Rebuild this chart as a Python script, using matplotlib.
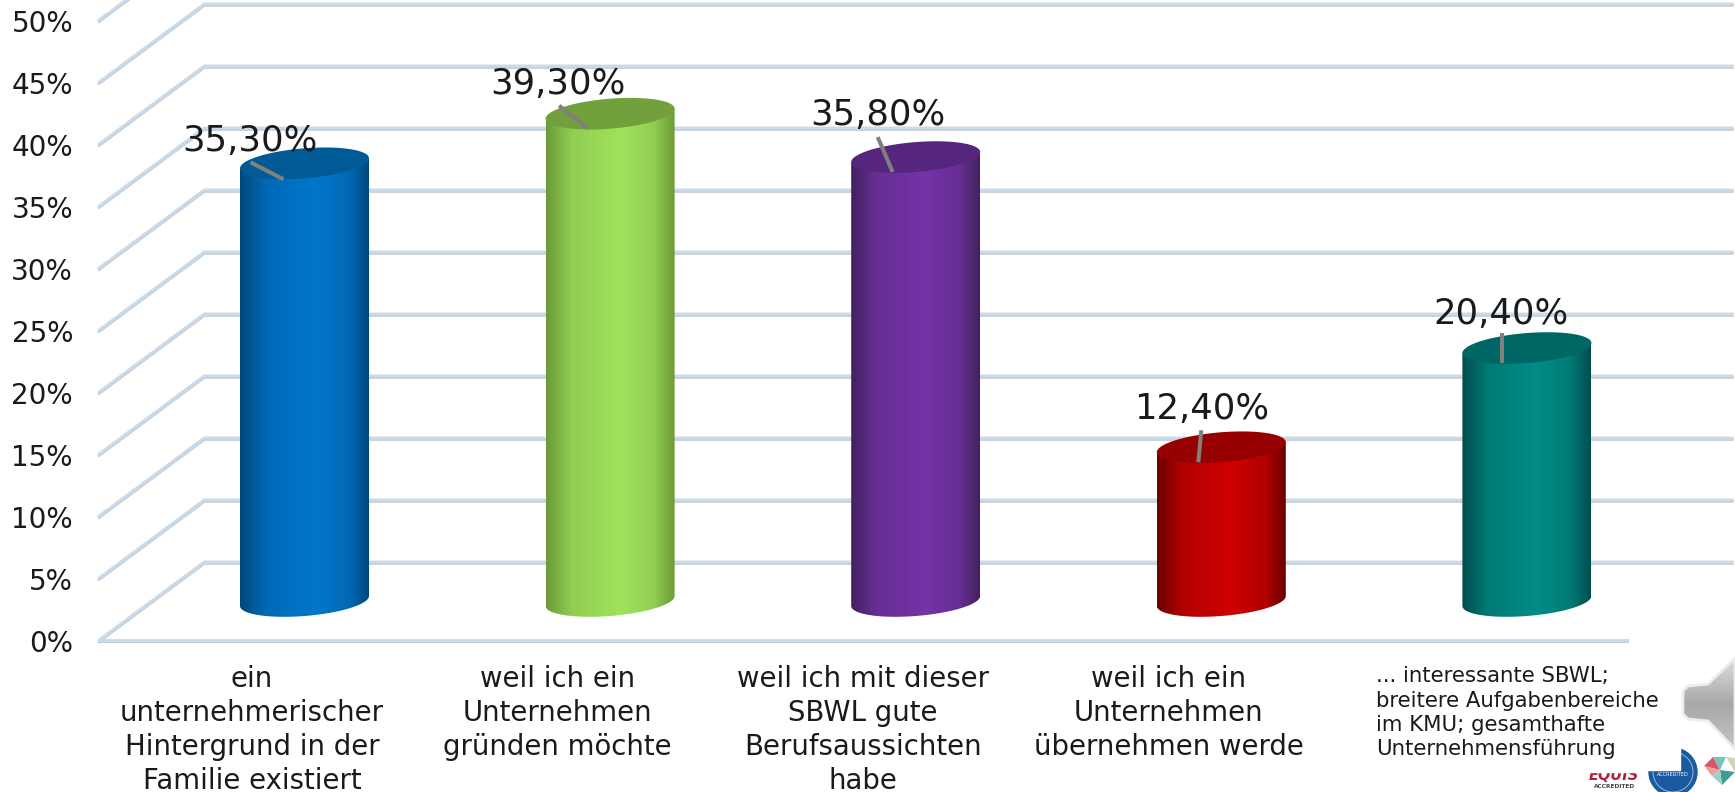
import numpy as np
import matplotlib
import matplotlib.pyplot as plt
from matplotlib.colors import LinearSegmentedColormap, to_rgb
from matplotlib.patches import Circle, PathPatch, Polygon, Rectangle
from matplotlib.path import Path
import matplotlib.patheffects as pe

matplotlib.use("Agg")

# data
categories = [
    "ein\nunternehmerischer\nHintergrund in der\nFamilie existiert",
    "weil ich ein\nUnternehmen\ngründen möchte",
    "weil ich mit dieser\nSBWL gute\nBerufsaussichten\nhabe",
    "weil ich ein\nUnternehmen\nübernehmen werde",
    "... interessante SBWL;\nbreitere Aufgabenbereiche\nim KMU; gesamthafte\nUnternehmensführung",
]
values = [35.3, 39.3, 35.8, 12.4, 20.4]
value_labels = ["35,30%", "39,30%", "35,80%", "12,40%", "20,40%"]
y_ticks = [0, 5, 10, 15, 20, 25, 30, 35, 40, 45, 50]
y_tick_labels = ["0%", "5%", "10%", "15%", "20%", "25%", "30%", "35%", "40%", "45%", "50%"]

# colours: edge, middle, top
edge_colors = ["#00477c", "#6c9a3a", "#43215f", "#6a0000", "#004d4d"]
mid_colors = ["#0076cb", "#9fe25b", "#7533a8", "#cf0000", "#008c86"]
top_colors = ["#005a96", "#72a03c", "#56267f", "#960000", "#006664"]

# pixel offsets from the centre of the cylinder top
label_offsets = [(-55, -22), (-52, -30), (-38, -42), (-20, -38), (-26, -34)]
leader_starts = [(-54, -1), (-51, -8), (-38, -20), (-20, -17), (-25, -15)]
leader_ends = [(-21, 16), (-22, 15), (-23, 15), (-23, 15), (-25, 15)]

W, H = 1735, 792
PX_X = 305.6  # pixels per category
PX_Y = 12.4   # pixels per percent
X0, Y0 = 252, 640  # pixel of category 0 / 0%
DX = 105 / PX_X  # depth of the 3d floor
DY = 78 / PX_Y

fig = plt.figure(figsize=(W / 100, H / 100), dpi=100, facecolor="white")
ax = fig.add_axes([0, 0, 1, 1])
ax.axis("off")

GRID = "#c9dbeb"
shadow = [pe.SimpleLineShadow(offset=(0, -1), shadow_color="#8c99a8", alpha=0.5), pe.Normal()]


def draw_grid():
    left, right = -0.5, 4.5
    for v in y_ticks:
        xs = [left, left + DX, right + DX]
        ys = [v, v + DY, v + DY]
        ax.plot(xs, ys, color=GRID, lw=2.1, zorder=1, solid_joinstyle="miter", path_effects=shadow)
    ax.plot([left, right], [0, 0], color=GRID, lw=2.1, zorder=1, path_effects=shadow)


def ellipse(cx, cy, t):
    a = 64.5 / PX_X
    b = 15 / PX_Y
    s = 5 / PX_Y
    return cx + a * np.cos(t), cy + s * np.cos(t) + b * np.sin(t)


def draw_cylinder(i, val, edge, mid, top):
    cx = i + DX / 2
    cy0 = DY / 2
    cy1 = val + DY / 2
    a = 64.5 / PX_X

    # body with horizontal gradient, clipped to the outline
    mid_rgb = np.array(to_rgb(mid))
    edge_rgb = np.array(to_rgb(edge))
    blend = tuple(0.72 * mid_rgb + 0.28 * edge_rgb)
    cmap = LinearSegmentedColormap.from_list(
        "cyl", [(0, edge), (0.2, blend), (0.58, mid), (0.84, blend), (1, edge)])
    t = np.linspace(np.pi, 2 * np.pi, 60)
    bx, by = ellipse(cx, cy0, t)
    tx, ty = ellipse(cx, cy1, t[[-1, 0]])
    outline = Path(np.column_stack([np.r_[bx, tx], np.r_[by, ty]]))
    patch = PathPatch(outline, facecolor="none", edgecolor="none", transform=ax.transData, zorder=3)
    ax.add_patch(patch)
    grad = np.linspace(0, 1, 256).reshape(1, -1)
    im = ax.imshow(grad, cmap=cmap, extent=[cx - a, cx + a, cy0 - 3, cy1 + 3],
                   aspect="auto", zorder=3, interpolation="bilinear")
    im.set_clip_path(patch)

    # top
    t = np.linspace(0, 2 * np.pi, 120)
    ex, ey = ellipse(cx, cy1, t)
    ax.fill(ex, ey, color=top, zorder=4, lw=0)
    return cx, cy1


draw_grid()

for i, val in enumerate(values):
    cx, cy = draw_cylinder(i, val, edge_colors[i], mid_colors[i], top_colors[i])
    ox, oy = label_offsets[i]
    ax.text(cx + ox / PX_X, cy - oy / PX_Y, value_labels[i], fontsize=25.5,
            ha="center", va="center", color="#1a1a1a", zorder=6)
    sx, sy = leader_starts[i]
    ex, ey = leader_ends[i]
    ax.plot([cx + sx / PX_X, cx + ex / PX_X], [cy - sy / PX_Y, cy - ey / PX_Y],
            color="#808080", lw=2.9, zorder=5, solid_capstyle="butt")

# axis labels
for v, lab in zip(y_ticks, y_tick_labels):
    ax.text((73 - X0) / PX_X, v - 0.3, lab, fontsize=20, ha="right", va="center", color="#1a1a1a")

for i, cat in enumerate(categories[:4]):
    ax.text(i, -2.0, cat, fontsize=19.8, ha="center", va="top", linespacing=1.27, color="#1a1a1a")
ax.text((1376 - X0) / PX_X, -2.1, categories[4], fontsize=15.3, ha="left", va="top",
        linespacing=1.28, color="#1a1a1a")

ax.set_xlim((0 - X0) / PX_X, (W - X0) / PX_X)
ax.set_ylim((Y0 - H) / PX_Y, Y0 / PX_Y)

# slide decoration on top, in pixel coordinates
deco = fig.add_axes([0, 0, 1, 1], facecolor="none")
deco.axis("off")
deco.set_xlim(0, W)
deco.set_ylim(H, 0)

deco.add_patch(Circle((1673, 772), 24, color="#1a5aa0", zorder=1))
deco.add_patch(Circle((1673, 772), 20, fill=False, ec="#9db8d8", lw=0.7, zorder=2))
deco.text(1673, 775, "ACCREDITED", fontsize=3.6, color="white", ha="center", va="center", zorder=2)
deco.add_patch(Rectangle((1640, 740), 40, 30, color="white", zorder=3))
deco.text(1614, 776, "EQUIS", fontsize=10.5, fontweight="bold", color="#b5203c", ha="center", va="center",
          style="italic", zorder=2)
deco.add_patch(Rectangle((1585, 760), 60, 12, color="white", zorder=3))
deco.text(1615, 786, "ACCREDITED", fontsize=4.2, fontweight="bold", color="#444444", ha="center", va="center")

diamond = [((1704, 766), (1713, 757), (1720, 770), "#d9566a"),
           ((1704, 766), (1720, 770), (1712, 776), "#e9a0a0"),
           ((1713, 757), (1726, 757), (1720, 770), "#79c4b8"),
           ((1726, 757), (1735, 758), (1735, 772), "#cfd8b0"),
           ((1720, 770), (1735, 772), (1722, 785), "#3f9c94"),
           ((1712, 776), (1720, 770), (1722, 785), "#9fd0c8")]
for a, b, c, col in diamond:
    deco.add_patch(Polygon([a, b, c], color=col, lw=0))

speaker = Polygon([(1735, 658), (1708, 684), (1688, 686), (1683, 691), (1683, 714), (1688, 719),
                   (1708, 721), (1735, 749)], closed=True, facecolor="none", edgecolor="#ededed", lw=2, zorder=5)
deco.add_patch(speaker)
shade = LinearSegmentedColormap.from_list("spk", ["#dedede", "#a8a8a8", "#c4c4c4"])
im = deco.imshow(np.linspace(0, 1, 64).reshape(-1, 1), cmap=shade, extent=[1683, 1735, 749, 658],
                 aspect="auto", zorder=4)
im.set_clip_path(speaker)
deco.set_xlim(0, W)
deco.set_ylim(H, 0)

plt.savefig("out.png", dpi=100)
